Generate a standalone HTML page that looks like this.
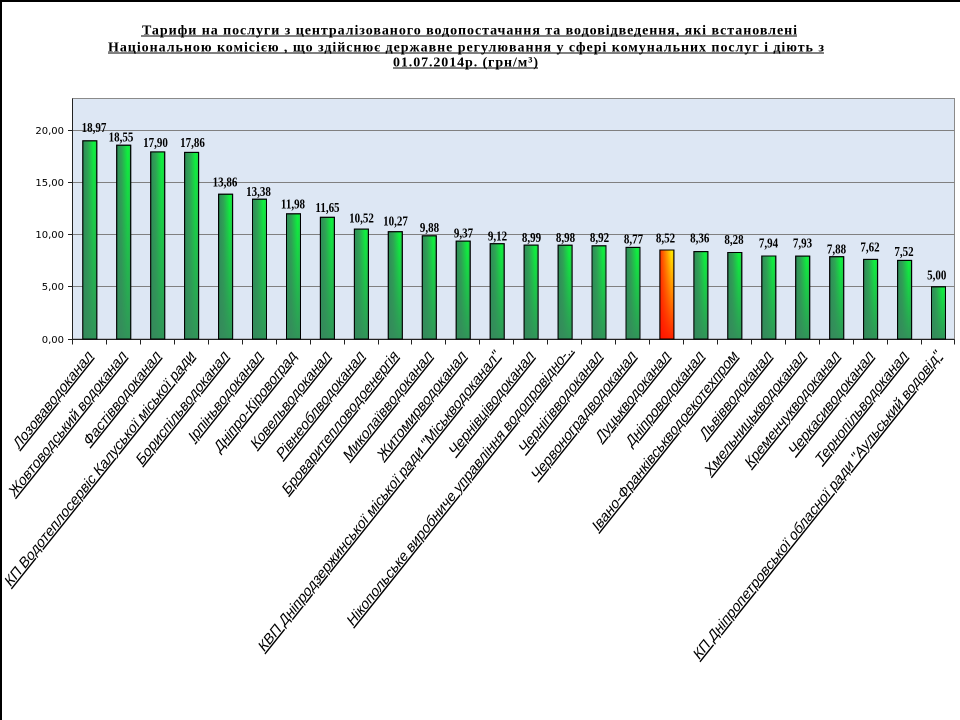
<!DOCTYPE html>
<html>
<head>
<meta charset="utf-8">
<style>
html,body{margin:0;padding:0;background:#fff;}
body{width:960px;height:720px;overflow:hidden;position:relative;}
svg{position:absolute;left:0;top:0;}
.t{font-family:"Liberation Serif","Noto Serif CJK SC",serif;font-weight:bold;font-size:14px;fill:#000;}
.v{font-family:"Liberation Serif","Noto Serif CJK SC",serif;font-weight:bold;font-size:11px;fill:#000;}
.y{font-family:"DejaVu Sans","Liberation Sans",sans-serif;font-size:10px;fill:#000;}
.x{font-family:"Liberation Sans","Noto Sans CJK SC",sans-serif;font-size:12.9px;fill:#000;text-decoration:underline;}
</style>
</head>
<body>
<svg width="960" height="720" viewBox="0 0 960 720" xmlns="http://www.w3.org/2000/svg">
<defs>
  <linearGradient id="gh" x1="0" y1="0" x2="1" y2="0">
    <stop offset="0" stop-color="#2e8a58"/>
    <stop offset="0.35" stop-color="#2fa654"/>
    <stop offset="0.8" stop-color="#0cf63c"/>
    <stop offset="1" stop-color="#22d048"/>
  </linearGradient>
  <linearGradient id="gv" x1="0" y1="0" x2="0" y2="1">
    <stop offset="0" stop-color="#2e8a58" stop-opacity="0"/>
    <stop offset="1" stop-color="#358a5c" stop-opacity="0.9"/>
  </linearGradient>
  <linearGradient id="oh" x1="0" y1="0" x2="1" y2="0">
    <stop offset="0" stop-color="#ff3000"/>
    <stop offset="0.85" stop-color="#ffee00"/>
    <stop offset="1" stop-color="#ffd000"/>
  </linearGradient>
  <linearGradient id="ov" x1="0" y1="0" x2="0" y2="1">
    <stop offset="0" stop-color="#ff1000" stop-opacity="0"/>
    <stop offset="1" stop-color="#ff1000" stop-opacity="0.92"/>
  </linearGradient>
</defs>

<!-- outer frame (top & left) -->
<rect x="0" y="0" width="960" height="2" fill="#000"/>
<rect x="0" y="0" width="2" height="720" fill="#000"/>

<!-- title -->
<text class="t" x="142" y="34.5" textLength="655" lengthAdjust="spacing">Тарифи на послуги з централізованого водопостачання та водовідведення, які встановлені</text>
<text class="t" x="108" y="51.5" textLength="716" lengthAdjust="spacing">Національною комісією , що здійснює державне регулювання у сфері комунальних послуг і діють з</text>
<text class="t" x="393" y="66.5" textLength="145" lengthAdjust="spacing">01.07.2014р. (грн/м³)</text>
<rect x="141" y="35.5" width="656" height="1" fill="#000"/>
<rect x="108" y="52.5" width="716" height="1" fill="#000"/>
<rect x="393" y="67.5" width="145" height="1" fill="#000"/>

<!-- plot area -->
<rect x="72.5" y="98.5" width="882" height="240.5" fill="#dde7f4" stroke="#8a8a8a" stroke-width="1"/>
<!-- gridlines -->
<g stroke="#808080" stroke-width="1">
  <line x1="72.5" y1="130.5" x2="954.5" y2="130.5"/>
  <line x1="72.5" y1="182.5" x2="954.5" y2="182.5"/>
  <line x1="72.5" y1="234.5" x2="954.5" y2="234.5"/>
  <line x1="72.5" y1="286.5" x2="954.5" y2="286.5"/>
</g>
<!-- axes -->
<g stroke="#222" stroke-width="1">
  <line x1="72.5" y1="98.5" x2="72.5" y2="339.5"/>
  <line x1="72.5" y1="339.5" x2="954.5" y2="339.5"/>
  <line x1="68" y1="130.5" x2="72.5" y2="130.5"/>
  <line x1="68" y1="182.5" x2="72.5" y2="182.5"/>
  <line x1="68" y1="234.5" x2="72.5" y2="234.5"/>
  <line x1="68" y1="286.5" x2="72.5" y2="286.5"/>
  <line x1="68" y1="339.5" x2="72.5" y2="339.5"/>
</g>
<g stroke="#222" stroke-width="1">
  <line x1="72.5" y1="339.5" x2="72.5" y2="344.5"/>
  <line x1="106.5" y1="339.5" x2="106.5" y2="344.5"/>
  <line x1="140.5" y1="339.5" x2="140.5" y2="344.5"/>
  <line x1="174.5" y1="339.5" x2="174.5" y2="344.5"/>
  <line x1="208.5" y1="339.5" x2="208.5" y2="344.5"/>
  <line x1="242.5" y1="339.5" x2="242.5" y2="344.5"/>
  <line x1="276.5" y1="339.5" x2="276.5" y2="344.5"/>
  <line x1="310.5" y1="339.5" x2="310.5" y2="344.5"/>
  <line x1="344.5" y1="339.5" x2="344.5" y2="344.5"/>
  <line x1="378.5" y1="339.5" x2="378.5" y2="344.5"/>
  <line x1="411.5" y1="339.5" x2="411.5" y2="344.5"/>
  <line x1="445.5" y1="339.5" x2="445.5" y2="344.5"/>
  <line x1="479.5" y1="339.5" x2="479.5" y2="344.5"/>
  <line x1="513.5" y1="339.5" x2="513.5" y2="344.5"/>
  <line x1="547.5" y1="339.5" x2="547.5" y2="344.5"/>
  <line x1="581.5" y1="339.5" x2="581.5" y2="344.5"/>
  <line x1="615.5" y1="339.5" x2="615.5" y2="344.5"/>
  <line x1="649.5" y1="339.5" x2="649.5" y2="344.5"/>
  <line x1="683.5" y1="339.5" x2="683.5" y2="344.5"/>
  <line x1="717.5" y1="339.5" x2="717.5" y2="344.5"/>
  <line x1="751.5" y1="339.5" x2="751.5" y2="344.5"/>
  <line x1="785.5" y1="339.5" x2="785.5" y2="344.5"/>
  <line x1="819.5" y1="339.5" x2="819.5" y2="344.5"/>
  <line x1="853.5" y1="339.5" x2="853.5" y2="344.5"/>
  <line x1="887.5" y1="339.5" x2="887.5" y2="344.5"/>
  <line x1="921.5" y1="339.5" x2="921.5" y2="344.5"/>
  <line x1="954.5" y1="339.5" x2="954.5" y2="344.5"/>
</g>

<!-- y labels -->
<text class="y" x="64" y="134" text-anchor="end">20,00</text>
<text class="y" x="64" y="186" text-anchor="end">15,00</text>
<text class="y" x="64" y="238" text-anchor="end">10,00</text>
<text class="y" x="64" y="290" text-anchor="end">5,00</text>
<text class="y" x="64" y="343" text-anchor="end">0,00</text>

<!-- bars -->
<g stroke="#000" stroke-width="1">
<g><rect x="82.8" y="140.8" width="14" height="198.2" fill="url(#gh)"/><rect x="82.8" y="140.8" width="14" height="198.2" fill="url(#gv)"/></g>
<g><rect x="116.7" y="145.2" width="14" height="193.8" fill="url(#gh)"/><rect x="116.7" y="145.2" width="14" height="193.8" fill="url(#gv)"/></g>
<g><rect x="150.7" y="151.9" width="14" height="187.1" fill="url(#gh)"/><rect x="150.7" y="151.9" width="14" height="187.1" fill="url(#gv)"/></g>
<g><rect x="184.6" y="152.4" width="14" height="186.6" fill="url(#gh)"/><rect x="184.6" y="152.4" width="14" height="186.6" fill="url(#gv)"/></g>
<g><rect x="218.6" y="194.2" width="14" height="144.8" fill="url(#gh)"/><rect x="218.6" y="194.2" width="14" height="144.8" fill="url(#gv)"/></g>
<g><rect x="252.5" y="199.2" width="14" height="139.8" fill="url(#gh)"/><rect x="252.5" y="199.2" width="14" height="139.8" fill="url(#gv)"/></g>
<g><rect x="286.5" y="213.8" width="14" height="125.2" fill="url(#gh)"/><rect x="286.5" y="213.8" width="14" height="125.2" fill="url(#gv)"/></g>
<g><rect x="320.4" y="217.3" width="14" height="121.7" fill="url(#gh)"/><rect x="320.4" y="217.3" width="14" height="121.7" fill="url(#gv)"/></g>
<g><rect x="354.4" y="229.1" width="14" height="109.9" fill="url(#gh)"/><rect x="354.4" y="229.1" width="14" height="109.9" fill="url(#gv)"/></g>
<g><rect x="388.3" y="231.7" width="14" height="107.3" fill="url(#gh)"/><rect x="388.3" y="231.7" width="14" height="107.3" fill="url(#gv)"/></g>
<g><rect x="422.3" y="235.8" width="14" height="103.2" fill="url(#gh)"/><rect x="422.3" y="235.8" width="14" height="103.2" fill="url(#gv)"/></g>
<g><rect x="456.2" y="241.1" width="14" height="97.9" fill="url(#gh)"/><rect x="456.2" y="241.1" width="14" height="97.9" fill="url(#gv)"/></g>
<g><rect x="490.2" y="243.7" width="14" height="95.3" fill="url(#gh)"/><rect x="490.2" y="243.7" width="14" height="95.3" fill="url(#gv)"/></g>
<g><rect x="524.1" y="245.1" width="14" height="93.9" fill="url(#gh)"/><rect x="524.1" y="245.1" width="14" height="93.9" fill="url(#gv)"/></g>
<g><rect x="558.1" y="245.2" width="14" height="93.8" fill="url(#gh)"/><rect x="558.1" y="245.2" width="14" height="93.8" fill="url(#gv)"/></g>
<g><rect x="592.0" y="245.8" width="14" height="93.2" fill="url(#gh)"/><rect x="592.0" y="245.8" width="14" height="93.2" fill="url(#gv)"/></g>
<g><rect x="626.0" y="247.4" width="14" height="91.6" fill="url(#gh)"/><rect x="626.0" y="247.4" width="14" height="91.6" fill="url(#gv)"/></g>
<g><rect x="659.9" y="250.0" width="14" height="89.0" fill="url(#oh)"/><rect x="659.9" y="250.0" width="14" height="89.0" fill="url(#ov)"/></g>
<g><rect x="693.9" y="251.6" width="14" height="87.4" fill="url(#gh)"/><rect x="693.9" y="251.6" width="14" height="87.4" fill="url(#gv)"/></g>
<g><rect x="727.8" y="252.5" width="14" height="86.5" fill="url(#gh)"/><rect x="727.8" y="252.5" width="14" height="86.5" fill="url(#gv)"/></g>
<g><rect x="761.8" y="256.0" width="14" height="83.0" fill="url(#gh)"/><rect x="761.8" y="256.0" width="14" height="83.0" fill="url(#gv)"/></g>
<g><rect x="795.7" y="256.1" width="14" height="82.9" fill="url(#gh)"/><rect x="795.7" y="256.1" width="14" height="82.9" fill="url(#gv)"/></g>
<g><rect x="829.7" y="256.7" width="14" height="82.3" fill="url(#gh)"/><rect x="829.7" y="256.7" width="14" height="82.3" fill="url(#gv)"/></g>
<g><rect x="863.6" y="259.4" width="14" height="79.6" fill="url(#gh)"/><rect x="863.6" y="259.4" width="14" height="79.6" fill="url(#gv)"/></g>
<g><rect x="897.6" y="260.4" width="14" height="78.6" fill="url(#gh)"/><rect x="897.6" y="260.4" width="14" height="78.6" fill="url(#gv)"/></g>
<g><rect x="931.5" y="286.8" width="14" height="52.2" fill="url(#gh)"/><rect x="931.5" y="286.8" width="14" height="52.2" fill="url(#gv)"/></g>
</g>

<!-- value labels -->
<g class="v" text-anchor="middle">
<text transform="translate(94,132) scale(1,1.25)">18,97</text>
<text transform="translate(121,141.5) scale(1,1.25)">18,55</text>
<text transform="translate(155.5,147) scale(1,1.25)">17,90</text>
<text transform="translate(192.5,147) scale(1,1.25)">17,86</text>
<text transform="translate(225,186.5) scale(1,1.25)">13,86</text>
<text transform="translate(258.5,196) scale(1,1.25)">13,38</text>
<text transform="translate(293,208.3) scale(1,1.25)">11,98</text>
<text transform="translate(327.5,212) scale(1,1.25)">11,65</text>
<text transform="translate(361.5,222.5) scale(1,1.25)">10,52</text>
<text transform="translate(395.5,225.5) scale(1,1.25)">10,27</text>
<text transform="translate(429.5,232) scale(1,1.25)">9,88</text>
<text transform="translate(463.5,237.5) scale(1,1.25)">9,37</text>
<text transform="translate(497.5,240.5) scale(1,1.25)">9,12</text>
<text transform="translate(531.5,242) scale(1,1.25)">8,99</text>
<text transform="translate(565.5,242) scale(1,1.25)">8,98</text>
<text transform="translate(599.5,242) scale(1,1.25)">8,92</text>
<text transform="translate(633.5,243.3) scale(1,1.25)">8,77</text>
<text transform="translate(665.5,242.3) scale(1,1.25)">8,52</text>
<text transform="translate(699.7,242.3) scale(1,1.25)">8,36</text>
<text transform="translate(734,243.8) scale(1,1.25)">8,28</text>
<text transform="translate(768.5,247.3) scale(1,1.25)">7,94</text>
<text transform="translate(802.5,247.3) scale(1,1.25)">7,93</text>
<text transform="translate(836.5,253.3) scale(1,1.25)">7,88</text>
<text transform="translate(870,251.7) scale(1,1.25)">7,62</text>
<text transform="translate(904,256) scale(1,1.25)">7,52</text>
<text transform="translate(936.7,279.3) scale(1,1.25)">5,00</text>
</g>

<!-- category labels -->
<g class="x" text-anchor="end">
<text transform="translate(93.3,356.5) scale(1,1.25) rotate(-45)">Лозоваводоканал</text>
<text transform="translate(127.2,356.5) scale(1,1.25) rotate(-45)">Жовтоводський водоканал</text>
<text transform="translate(161.2,356.5) scale(1,1.25) rotate(-45)">Фастівводоканал</text>
<text transform="translate(195.1,356.5) scale(1,1.25) rotate(-45)">КП Водотеплосервіс Калуської міської ради</text>
<text transform="translate(229.1,356.5) scale(1,1.25) rotate(-45)">Бориспільводоканал</text>
<text transform="translate(263.0,356.5) scale(1,1.25) rotate(-45)">Ірпіньводоканал</text>
<text transform="translate(297.0,356.5) scale(1,1.25) rotate(-45)">Дніпро-Кіровоград</text>
<text transform="translate(330.9,356.5) scale(1,1.25) rotate(-45)">Ковельводоканал</text>
<text transform="translate(364.9,356.5) scale(1,1.25) rotate(-45)">Рівнеоблводоканал</text>
<text transform="translate(398.8,356.5) scale(1,1.25) rotate(-45)">Броваритепловодоенергія</text>
<text transform="translate(432.8,356.5) scale(1,1.25) rotate(-45)">Миколаївводоканал</text>
<text transform="translate(466.7,356.5) scale(1,1.25) rotate(-45)">Житомирводоканал</text>
<text transform="translate(500.7,356.5) scale(1,1.25) rotate(-45)">КВП Дніпродзержинської міської ради "Міськводоканал"</text>
<text transform="translate(534.6,356.5) scale(1,1.25) rotate(-45)">Чернівціводоканал</text>
<text transform="translate(573.6,350.5) scale(1,1.25) rotate(-45)">Нікопольське виробниче управління водопровідно-..</text>
<text transform="translate(602.5,356.5) scale(1,1.25) rotate(-45)">Чернігівводоканал</text>
<text transform="translate(636.5,356.5) scale(1,1.25) rotate(-45)">Червоноградводоканал</text>
<text transform="translate(670.4,356.5) scale(1,1.25) rotate(-45)">Луцькводоканал</text>
<text transform="translate(704.4,356.5) scale(1,1.25) rotate(-45)">Дніпроводоканал</text>
<text transform="translate(738.3,356.5) scale(1,1.25) rotate(-45)">Івано-Франківськводоекотехпром</text>
<text transform="translate(772.3,356.5) scale(1,1.25) rotate(-45)">Львівводоканал</text>
<text transform="translate(806.2,356.5) scale(1,1.25) rotate(-45)">Хмельницькводоканал</text>
<text transform="translate(840.2,356.5) scale(1,1.25) rotate(-45)">Кременчукводоканал</text>
<text transform="translate(874.1,356.5) scale(1,1.25) rotate(-45)">Черкасиводоканал</text>
<text transform="translate(908.1,356.5) scale(1,1.25) rotate(-45)">Тернопільводоканал</text>
<text transform="translate(942.0,356.5) scale(1,1.25) rotate(-45)">КП Дніпропетровської обласної ради "Аульський водовід"</text>
</g>
</svg>
</body>
</html>
